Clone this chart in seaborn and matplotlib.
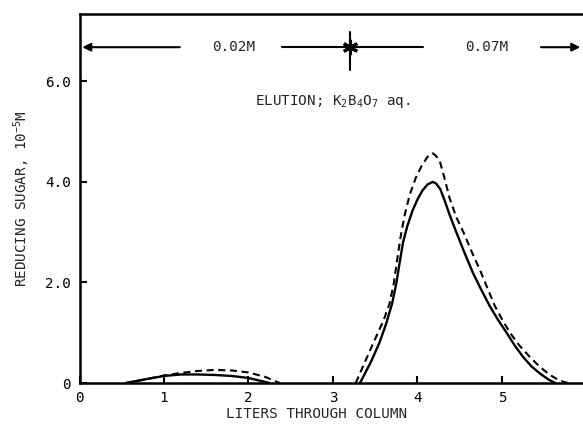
import matplotlib
matplotlib.use("Agg")
import matplotlib.pyplot as plt
import seaborn as sns
import pandas as pd

# ---- data ----
solid_small_x = [0.55, 0.8, 1.0, 1.2, 1.4, 1.6, 1.8, 2.0, 2.15, 2.25]
solid_small_y = [0.0, 0.08, 0.14, 0.17, 0.17, 0.16, 0.14, 0.10, 0.04, 0.0]
dashed_small_x = [0.55, 0.8, 1.0, 1.2, 1.4, 1.6, 1.8, 2.0, 2.2, 2.37]
dashed_small_y = [0.0, 0.08, 0.15, 0.20, 0.24, 0.26, 0.25, 0.21, 0.12, 0.0]

solid_big_x = [3.32, 3.45, 3.55, 3.63, 3.70, 3.75, 3.79, 3.83, 3.88, 3.94, 4.00, 4.06,
               4.12, 4.18, 4.22, 4.27, 4.32, 4.38, 4.46, 4.56, 4.66, 4.76, 4.86, 4.96,
               5.06, 5.15, 5.25, 5.35, 5.45, 5.55, 5.63]
solid_big_y = [0.0, 0.42, 0.80, 1.18, 1.58, 1.98, 2.40, 2.80, 3.12, 3.42, 3.65, 3.83,
               3.95, 4.00, 3.97, 3.86, 3.64, 3.35, 3.00, 2.58, 2.18, 1.84, 1.52, 1.24,
               0.99, 0.75, 0.52, 0.33, 0.19, 0.07, 0.0]
dashed_big_x = [3.27, 3.40, 3.50, 3.60, 3.67, 3.72, 3.76, 3.80, 3.85, 3.91, 3.98, 4.05,
                4.12, 4.18, 4.22, 4.27, 4.32, 4.38, 4.46, 4.55, 4.64, 4.74, 4.83,
                4.92, 5.01, 5.10, 5.21, 5.33, 5.45, 5.57, 5.68, 5.78]
dashed_big_y = [0.0, 0.5, 0.88, 1.25, 1.58, 1.98, 2.45, 2.90, 3.35, 3.75, 4.08, 4.32,
                4.50, 4.57, 4.52, 4.38, 4.08, 3.68, 3.30, 2.98, 2.62, 2.25, 1.88,
                1.52, 1.24, 0.99, 0.74, 0.52, 0.32, 0.16, 0.05, 0.0]

x_ticks = [0, 1, 2, 3, 4, 5]
x_ticklabels = ["0", "1", "2", "3", "4", "5"]
y_ticks = [0, 2, 4, 6]
y_ticklabels = ["0", "2.0", "4.0", "6.0"]

boundary_x = 3.2          # switch from 0.02M to 0.07M
band_y = 6.68
band_labels = ["0.02M", "0.07M"]
band_label_x = [1.82, 4.82]

# ---- style ----
sns.set_style("ticks")
FONT = ["DejaVu Sans Mono", "DejaVu Sans"]
plt.rcParams["font.family"] = FONT
plt.rcParams["mathtext.fontset"] = "custom"
plt.rcParams["mathtext.rm"] = "DejaVu Sans Mono"
plt.rcParams["mathtext.it"] = "DejaVu Sans Mono"
FS = 10.3

fig = plt.figure(figsize=(5.83, 4.30), dpi=100)
ax = fig.add_axes([0.1364, 0.1093, 0.8636, 0.8581])

LW = 1.7
def draw(xs, ys, dashed):
    df = pd.DataFrame({"x": xs, "y": ys})
    sns.lineplot(data=df, x="x", y="y", ax=ax, sort=False, color="black",
                 linewidth=LW if not dashed else 1.5)
    line = ax.lines[-1]
    line.set_solid_joinstyle("round")
    if dashed:
        line.set_dashes((3.4, 2.2))

draw(solid_small_x, solid_small_y, False)
draw(dashed_small_x, dashed_small_y, True)
draw(solid_big_x, solid_big_y, False)
draw(dashed_big_x, dashed_big_y, True)

ax.set_xlim(0, 5.96)
ax.set_ylim(0, 7.34)
ax.set_xticks(x_ticks)
ax.set_xticklabels(x_ticklabels)
ax.set_yticks(y_ticks)
ax.set_yticklabels(y_ticklabels)
ax.tick_params(direction="in", length=5, width=1.5, labelsize=FS, pad=6, colors="black")

for s in ["left", "bottom", "top"]:
    ax.spines[s].set_linewidth(1.8)
    ax.spines[s].set_color("black")
ax.spines["right"].set_visible(False)

ax.set_xlabel("LITERS THROUGH COLUMN", fontsize=FS)
ax.set_ylabel("REDUCING SUGAR, 10$^{-5}$M", fontsize=FS)
ax.yaxis.set_label_coords(-0.095, 0.50)
ax.xaxis.set_label_coords(0.47, -0.065)

# band arrows
seg_kw = dict(color="black", lw=1.5)
ax.annotate("", xy=(0.0, band_y), xytext=(1.22, band_y),
            arrowprops=dict(arrowstyle="-|>", mutation_scale=12, **seg_kw))
ax.plot([2.40, 4.07], [band_y, band_y], **seg_kw)
ax.annotate("", xy=(5.96, band_y), xytext=(5.43, band_y),
            arrowprops=dict(arrowstyle="-|>", mutation_scale=12, **seg_kw),
            annotation_clip=False)
ax.plot([boundary_x], [band_y], marker=(6, 2, 0), markersize=11, mew=2.2, color="black")
ax.plot([boundary_x, boundary_x], [band_y - 0.45, band_y + 0.3], color="black", lw=1.5)
for lab, lx in zip(band_labels, band_label_x):
    ax.text(lx, band_y, lab, ha="center", va="center", fontsize=FS)

ax.text(3.0, 5.6, "ELUTION; K$_2$B$_4$O$_7$ aq.", ha="center", va="center", fontsize=FS)

fig.savefig("out.png", dpi=100)
